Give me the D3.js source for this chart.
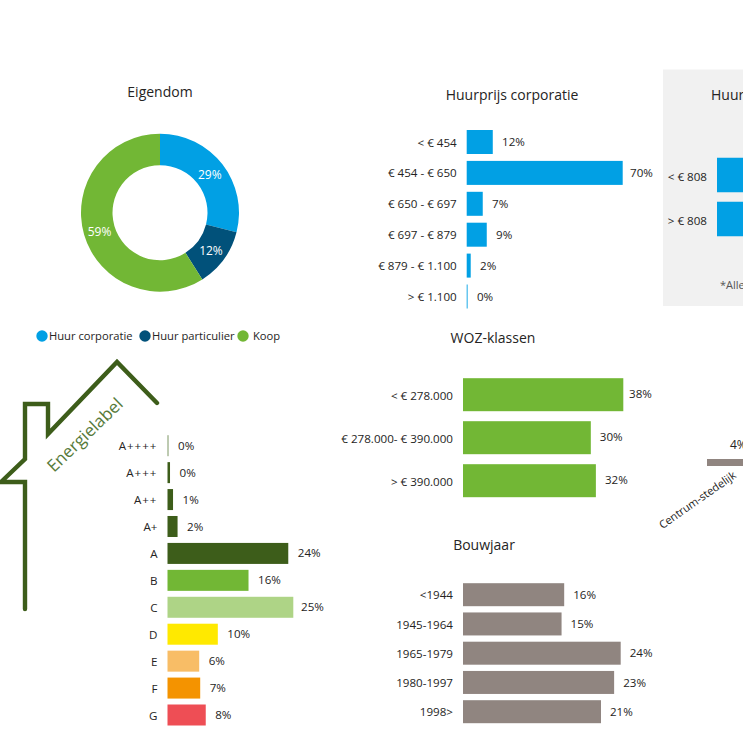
<!DOCTYPE html>
<html><head><meta charset="utf-8">
<script src="https://cdnjs.cloudflare.com/ajax/libs/d3/7.8.5/d3.min.js"></script>
<style>html,body{margin:0;padding:0;background:#fff;overflow:hidden}
svg{display:block}text{font-family:"Open Sans","Noto Sans",sans-serif;fill:#252423}</style>
</head><body><svg id="c" width="743" height="743"></svg>
<script>
const eigCats=["Huur corporatie","Huur particulier","Koop"];
const eigVals=[29,12,59];
const eigColors=["#01a0e4","#01517a","#72b735"];
const prijsCats=["< € 454","€ 454 - € 650","€ 650 - € 697","€ 697 - € 879","€ 879 - € 1.100","> € 1.100"];
const prijsVals=[11.7,70,7.2,9,1.8,0.4];
const prijsLabels=["12%","70%","7%","9%","2%","0%"];
const partCats=["< € 808","> € 808"];
const partVals=[40,60];
const wozCats=["< € 278.000","€ 278.000- € 390.000","> € 390.000"];
const wozVals=[38,30.3,31.5];
const wozLabels=["38%","30%","32%"];
const bouwCats=["<1944","1945-1964","1965-1979","1980-1997","1998>"];
const bouwVals=[15.4,15,24,23,21];
const bouwLabels=["16%","15%","24%","23%","21%"];
const labelCats=["A++++","A+++","A++","A+","A","B","C","D","E","F","G"];
const labelVals=[0.2,0.5,1.1,2,24,16.1,25,10,6.3,6.5,7.6];
const labelTexts=["0%","0%","1%","2%","24%","16%","25%","10%","6%","7%","8%"];
const labelColors=["#7f9766","#3d5d1a","#3d5d1a","#3d5d1a","#3d5d1a","#72b735","#aed486","#ffe900","#f8bd66","#f49300","#ee4e55"];
const typeCats=["Centrum-stedelijk"];
const typeVals=[4];
const typeLabels=["4%"];
const huisPad=[[25,609],[25,482],[1,482],[25,459],[25,404],[48,404],[48,434],[117,362],[157,403]];

const svg=d3.select("#c");
function title(t,x,y){svg.append("text").attr("x",x).attr("y",y).attr("text-anchor","middle").attr("font-size",14).text(t);}

// Panel
svg.append("rect").attr("x",663).attr("y",69.5).attr("width",80).attr("height",236.5).attr("fill","#f1f1f1");

// Donut
title("Eigendom",160,97);
const pie=d3.pie().sort(null).value(d=>d)(eigVals);
const arc=d3.arc().innerRadius(47.5).outerRadius(79);
const gd=svg.append("g").attr("transform","translate(160,212.7)");
gd.selectAll("path").data(pie).join("path").attr("d",arc).attr("fill",(d,i)=>eigColors[i]);
gd.selectAll("text").data(pie).join("text").attr("transform",d=>`translate(${d3.arc().innerRadius(63).outerRadius(63).centroid(d)})`)
 .attr("text-anchor","middle").attr("dy","0.45em").attr("font-size",12).style("fill","#fff").text((d,i)=>eigVals[i]+"%");
// Legend
const legX=[42,145,243], legT=[49,152,253];
eigCats.forEach((c,i)=>{
 svg.append("circle").attr("cx",legX[i]).attr("cy",336).attr("r",5.7).attr("fill",eigColors[i]);
 svg.append("text").attr("x",legT[i]).attr("y",340).attr("font-size",11.2).text(c);
});

function bars(o){
 const g=svg.append("g");
 const y=d3.scalePoint().domain(o.cats).range([o.y0,o.y1]);
 const x=d3.scaleLinear().domain([0,o.max]).range([o.x0,o.x1]);
 g.selectAll("rect").data(o.vals).join("rect").attr("x",o.x0).attr("y",(d,i)=>y(o.cats[i])-o.h/2)
  .attr("width",d=>x(d)-o.x0).attr("height",o.h).attr("fill",(d,i)=>Array.isArray(o.colors)?o.colors[i]:o.colors);
 g.selectAll(".c").data(o.cats).join("text").attr("class","c").attr("x",o.x0-10).attr("y",d=>y(d)+(o.catDy||0)).attr("dy","0.35em")
  .attr("text-anchor","end").attr("font-size",11.6).style("letter-spacing",d=>/\+\+/.test(d)?"1px":null).text(d=>d);
 if(o.labels) g.selectAll(".v").data(o.vals).join("text").attr("class","v").attr("x",d=>Math.min(x(d)+o.gap,o.xmax)).attr("y",(d,i)=>y(o.cats[i])+(o.valDy||0)).attr("dy","0.35em")
  .attr("font-size",11.6).text((d,i)=>o.labels[i]);
}
title("Huurprijs corporatie",512,100);
bars({cats:prijsCats,vals:prijsVals,labels:prijsLabels,x0:466.7,x1:622.7,max:70,y0:142,y1:296.5,h:24,colors:"#01a0e4",gap:9.3,xmax:630,catDy:0.5});
svg.append("text").attr("x",711).attr("y",100).attr("font-size",14).text("Huur");
bars({cats:partCats,vals:partVals,x0:717,x1:873,max:70,y0:175,y1:219,h:34.5,colors:"#01a0e4",catDy:1.5});
svg.append("text").attr("x",720).attr("y",289).attr("font-size",11).style("fill","#555").text("*Alle");
title("WOZ-klassen",493,343);
bars({cats:wozCats,vals:wozVals,labels:wozLabels,x0:463,x1:623.3,max:38,y0:394.7,y1:480.7,h:33,colors:"#72b735",gap:9,xmax:629,catDy:1,valDy:-0.5});
title("Bouwjaar",484,550);
bars({cats:bouwCats,vals:bouwVals,labels:bouwLabels,x0:463,x1:620.7,max:24,y0:594.7,y1:711.7,h:23,colors:"#908580",gap:9,xmax:743,catDy:0.5});
bars({cats:labelCats,vals:labelVals,labels:labelTexts,x0:167.5,x1:293.3,max:25,y0:445.7,y1:715,h:21,colors:labelColors,gap:9.5,xmax:301,catDy:0.5});

// House
svg.append("path").attr("d",d3.line()(huisPad)).attr("fill","none").attr("stroke","#3d5d1a").attr("stroke-width",4.4).attr("stroke-linecap","round");
svg.append("text").attr("transform","translate(54,473) rotate(-44)").attr("font-size",17).style("fill","#567a3a").text("Energielabel");

// Centrum-stedelijk
const xt=d3.scaleBand().domain(typeCats).range([707,760]);
const yt=d3.scaleLinear().domain([0,4]).range([466,459]);
svg.selectAll(".t").data(typeVals).join("rect").attr("class","t").attr("x",(d,i)=>xt(typeCats[i])).attr("y",d=>yt(d)).attr("width",xt.bandwidth()).attr("height",d=>yt(0)-yt(d)).attr("fill","#908580");
svg.append("text").attr("x",730).attr("y",449).attr("font-size",12).text(typeLabels[0]);
svg.append("text").attr("transform","translate(737,477) rotate(-35)").attr("text-anchor","end").attr("font-size",11).text(typeCats[0]);
</script></body></html>
